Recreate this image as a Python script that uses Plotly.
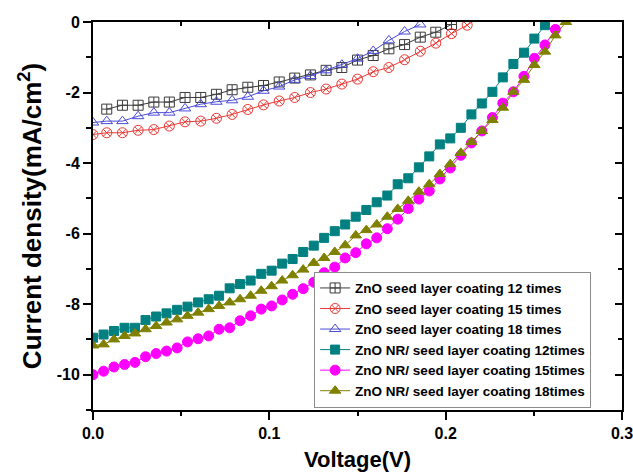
import plotly.graph_objects as go

# ---------------- data ----------------
seed_v = [0.0078, 0.0167, 0.0256, 0.0345, 0.0433, 0.0522, 0.0611, 0.0700, 0.0789, 0.0878,
          0.0967, 0.1056, 0.1144, 0.1233, 0.1322, 0.1411, 0.1500, 0.1589, 0.1678, 0.1767,
          0.1856, 0.1944, 0.2033, 0.2122, 0.2211]

seed12_v = seed_v[:23]
seed12_j = [-2.47, -2.36, -2.36, -2.27, -2.27, -2.14, -2.14, -2.05, -1.92, -1.85,
            -1.80, -1.70, -1.59, -1.50, -1.37, -1.29, -1.08, -0.95, -0.76, -0.64,
            -0.43, -0.29, -0.07]

seed15_v = [0.0] + seed_v[:25]
seed15_j = [-3.19, -3.14, -3.14, -3.07, -3.05, -2.95, -2.83, -2.81, -2.73, -2.62,
            -2.48, -2.35, -2.24, -2.14, -2.00, -1.90, -1.76, -1.62, -1.41, -1.29,
            -1.07, -0.83, -0.60, -0.33, -0.09, 0.20]

seed18_v = [0.0] + seed_v[:21]
seed18_j = [-2.85, -2.81, -2.81, -2.67, -2.57, -2.57, -2.45, -2.33, -2.26, -2.22,
            -2.12, -1.95, -1.83, -1.64, -1.53, -1.37, -1.21, -1.04, -0.82, -0.52,
            -0.27, -0.07]

nr_v = [0.0, 0.0060, 0.0119, 0.0179, 0.0238, 0.0298, 0.0358, 0.0417, 0.0477, 0.0536,
        0.0596, 0.0656, 0.0715, 0.0775, 0.0834, 0.0894, 0.0954, 0.1013, 0.1073, 0.1132,
        0.1192, 0.1252, 0.1311, 0.1371, 0.1430, 0.1490, 0.1550, 0.1609, 0.1669, 0.1728,
        0.1788, 0.1848, 0.1907, 0.1967, 0.2026, 0.2086, 0.2146, 0.2205, 0.2265, 0.2324,
        0.2384, 0.2444, 0.2503, 0.2563, 0.2622, 0.2682]

nr12_j = [-8.95, -8.86, -8.76, -8.67, -8.67, -8.45, -8.35, -8.26, -8.16, -8.07,
          -7.95, -7.86, -7.76, -7.55, -7.43, -7.33, -7.14, -7.05, -6.85, -6.72,
          -6.52, -6.34, -6.12, -5.93, -5.74, -5.52, -5.33, -5.11, -4.92, -4.60,
          -4.43, -4.12, -3.81, -3.47, -3.30, -3.00, -2.62, -2.31, -1.98, -1.57,
          -1.19, -0.87, -0.47, -0.09]

nr15_j = [-10.00, -9.90, -9.78, -9.71, -9.65, -9.49, -9.40, -9.33, -9.24, -9.07,
          -8.98, -8.90, -8.71, -8.67, -8.47, -8.33, -8.14, -8.05, -7.88, -7.72,
          -7.56, -7.38, -7.11, -6.95, -6.69, -6.54, -6.29, -6.12, -5.86, -5.59,
          -5.29, -5.02, -4.79, -4.45, -4.14, -3.78, -3.43, -3.09, -2.71, -2.30,
          -1.98, -1.54, -1.03, -0.65, -0.21]

nr18_j = [-9.17, -9.14, -9.00, -8.90, -8.83, -8.71, -8.62, -8.52, -8.43, -8.33,
          -8.24, -8.14, -8.05, -7.95, -7.86, -7.76, -7.62, -7.49, -7.33, -7.18,
          -7.02, -6.83, -6.69, -6.52, -6.33, -6.05, -5.90, -5.74, -5.52, -5.30,
          -5.07, -4.81, -4.60, -4.31, -4.03, -3.71, -3.40, -3.09, -2.78, -2.43,
          -1.98, -1.64, -1.22, -0.84, -0.38, 0.00]

names = ["ZnO seed layer coating 12 times",
         "ZnO seed layer coating 15 times",
         "ZnO seed layer coating 18 times",
         "ZnO NR/ seed layer coating 12times",
         "ZnO NR/ seed layer coating 15times",
         "ZnO NR/ seed layer coating 18times"]

x_ticks = [0.0, 0.1, 0.2, 0.3]
x_tick_text = ["0.0", "0.1", "0.2", "0.3"]
y_ticks = [0, -2, -4, -6, -8, -10]
y_tick_text = ["0", "-2", "-4", "-6", "-8", "-10"]

# ---------------- figure ----------------
FONT = "Liberation Sans, Arial, sans-serif"

series = [
    (seed12_v, seed12_j, names[0], "#3c3c3c", "square-cross-open", 10),
    (seed15_v, seed15_j, names[1], "#e83a36", "circle-x-open", 10),
    (seed18_v, seed18_j, names[2], "#4a4ad8", "triangle-up-open", 10),
    (nr_v[:len(nr12_j)], nr12_j, names[3], "#008080", "square", 9),
    (nr_v[:len(nr15_j)], nr15_j, names[4], "#ff00ff", "circle", 10),
    (nr_v[:len(nr18_j)], nr18_j, names[5], "#808000", "triangle-up", 10),
]

fig = go.Figure()
for xs, ys, nm, col, sym, sz in series:
    fig.add_trace(go.Scatter(
        x=xs, y=ys, name=nm, mode="lines+markers",
        line=dict(color=col, width=1),
        marker=dict(symbol=sym, size=sz, color=col,
                    line=dict(color=col, width=1)),
    ))

# empty helper trace so the top/right frame axes are initialised
fig.add_trace(go.Scatter(x=[], y=[], xaxis="x2", yaxis="y2",
                         showlegend=False, hoverinfo="skip"))

axis_common = dict(showgrid=False, zeroline=False, showline=True,
                   linecolor="black", linewidth=2)

fig.update_layout(
    width=633, height=474,
    autosize=False,
    margin=dict(l=93, r=11, t=22, b=64, autoexpand=False),
    paper_bgcolor="white", plot_bgcolor="white",
    font=dict(family=FONT, color="black"),
    showlegend=True,
    xaxis=dict(
        range=[0, 0.3], tickvals=x_ticks, ticktext=x_tick_text,
        ticks="outside", ticklen=8, tickwidth=2, tickcolor="black",
        minor=dict(dtick=0.05, ticks="outside", ticklen=4, tickwidth=2, tickcolor="black"),
        tickfont=dict(family=FONT, size=16, color="black", weight="bold"),
        ticklabeloverflow="allow",
        title=dict(text="<b>Voltage(V)</b>", font=dict(family=FONT, size=22, color="black"),
                   standoff=10),
        mirror=True,
        **axis_common,
    ),
    yaxis=dict(
        range=[-11, 0], tickvals=y_ticks, ticktext=y_tick_text,
        ticks="outside", ticklen=8, tickwidth=2, tickcolor="black",
        minor=dict(dtick=1, ticks="outside", ticklen=5, tickwidth=2, tickcolor="black"),
        tickfont=dict(family=FONT, size=16, color="black", weight="bold"),
        ticklabeloverflow="allow",
        title=dict(text="<b>Current density(mA/cm<sup>2</sup>)</b>",
                   font=dict(family=FONT, size=26, color="black"), standoff=8),
        mirror=True,
        **axis_common,
    ),
    xaxis2=dict(
        overlaying="x", side="top", range=[0, 0.3], anchor="y2",
        tickvals=x_ticks, showticklabels=False,
        ticks="inside", ticklen=7, tickwidth=2, tickcolor="black",
        minor=dict(dtick=0.05, ticks="inside", ticklen=4, tickwidth=2, tickcolor="black"),
        **axis_common,
    ),
    yaxis2=dict(
        overlaying="y", side="right", range=[-11, 0], anchor="x2",
        tickvals=y_ticks, showticklabels=False,
        ticks="inside", ticklen=7, tickwidth=2, tickcolor="black",
        minor=dict(dtick=1, ticks="inside", ticklen=4, tickwidth=2, tickcolor="black"),
        **axis_common,
    ),
    legend=dict(
        x=0.418, y=0.006, xanchor="left", yanchor="bottom",
        bgcolor="white", bordercolor="#8c8c8c", borderwidth=1,
        font=dict(family=FONT, size=13.5, color="black", weight="bold"),
        tracegroupgap=0, itemwidth=30,
    ),
)

fig.write_html(
    "out.html",
    config={"displayModeBar": False},
    post_script="document.body.style.margin='0';",
)
